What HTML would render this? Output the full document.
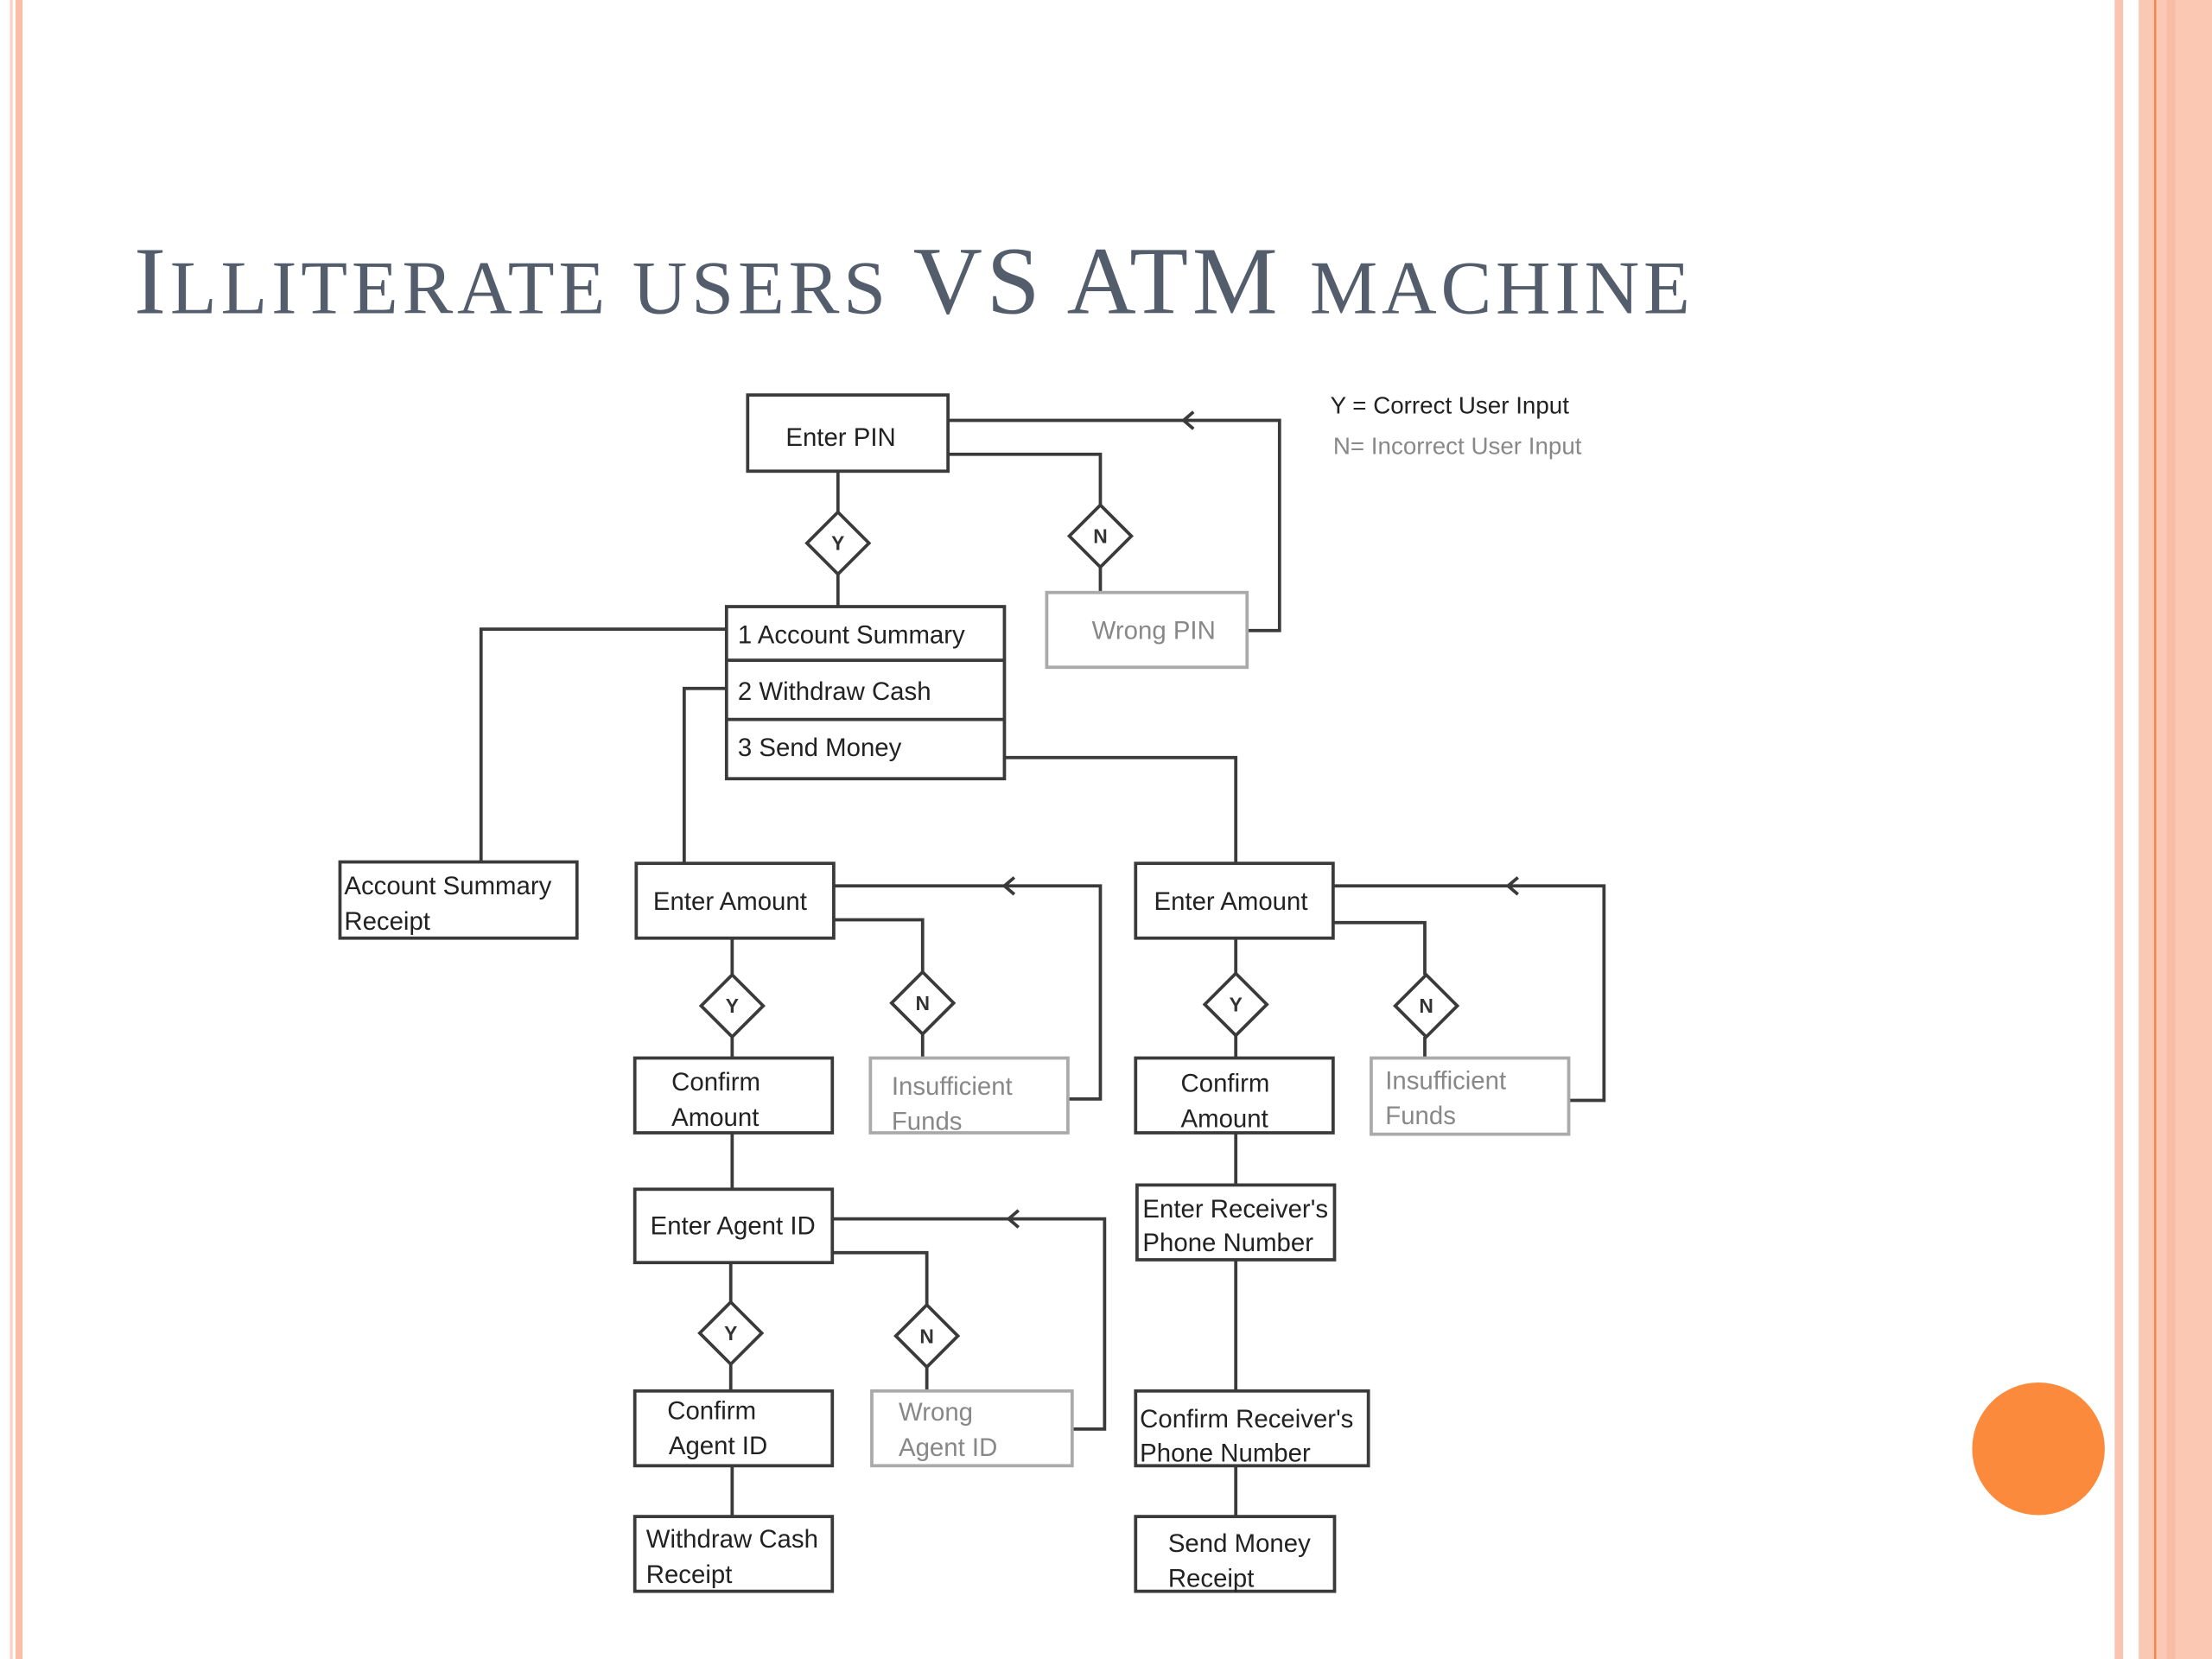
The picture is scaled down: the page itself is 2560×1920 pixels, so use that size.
<!DOCTYPE html>
<html><head><meta charset="utf-8"><style>
html,body{margin:0;padding:0;background:#fff;}
svg{display:block;}
</style></head><body>
<svg width="2560" height="1920" viewBox="0 0 1568 1176" xmlns="http://www.w3.org/2000/svg">
<rect width="1568" height="1176" fill="#fff"/>
<rect x="7" y="0" width="2" height="1176" fill="#fbd3c4"/>
<rect x="11" y="0" width="5" height="1176" fill="#fbbfa8"/>
<rect x="1499" y="0" width="6" height="1176" fill="#fbc4b0"/>
<rect x="1516" y="0" width="52" height="1176" fill="#fbc8b4"/>
<rect x="1527" y="0" width="1.5" height="1176" fill="#f0874c"/>
<rect x="1536" y="0" width="6" height="1176" fill="#f9bda6"/>
<circle cx="1445" cy="1027" r="47" fill="#fc8a3c"/>
<text x="95" y="222" font-family="Liberation Serif, serif" fill="#535d6b" font-size="68" textLength="1103" lengthAdjust="spacing"><tspan>I</tspan><tspan font-size="54">LLITERATE USERS </tspan><tspan>VS ATM </tspan><tspan font-size="54">MACHINE</tspan></text>
<g fill="none" stroke="#3a3a3a" stroke-width="2.3">
<path d="M672 298 H907 V447 H884"/>
<path d="M672 322 H780 V358 M780 402 V420"/>
<path d="M594 334 V363 M594 407 V430"/>
<path d="M515 446 H341 V611"/>
<path d="M515 488 H485 V612"/>
<path d="M712 537 H876 V612"/>
<path d="M591 628 H780 V779 H757"/>
<path d="M591 652 H654 V689 M654 733 V750"/>
<path d="M519 665 V691 M519 735 V750"/>
<path d="M519 803 V843"/>
<path d="M590 864 H783 V1013 H760"/>
<path d="M590 888 H657 V925 M657 969 V986"/>
<path d="M518 895 V923 M518 967 V986"/>
<path d="M519 1039 V1075"/>
<path d="M945 628 H1137 V780 H1112"/>
<path d="M945 654 H1010 V691 M1010 735 V750"/>
<path d="M876 665 V690 M876 734 V750"/>
<path d="M876 803 V840 M876 893 V986 M876 1039 V1075"/>
<path d="M846 292 L839 298 L846 304"/>
<path d="M719 622 L712 628 L719 634"/>
<path d="M722 858 L715 864 L722 870"/>
<path d="M1076 622 L1069 628 L1076 634"/>
<path d="M594 363 L616 385 L594 407 L572 385 Z"/>
<path d="M780 358 L802 380 L780 402 L758 380 Z"/>
<path d="M519 691 L541 713 L519 735 L497 713 Z"/>
<path d="M654 689 L676 711 L654 733 L632 711 Z"/>
<path d="M518 923 L540 945 L518 967 L496 945 Z"/>
<path d="M657 925 L679 947 L657 969 L635 947 Z"/>
<path d="M876 690 L898 712 L876 734 L854 712 Z"/>
<path d="M1011 691 L1033 713 L1011 735 L989 713 Z"/>
<rect x="530" y="280" width="142" height="54" fill="#fff"/>
<rect x="515" y="430" width="197" height="122" fill="#fff"/>
<path d="M515 468 H712 M515 510 H712"/>
<rect x="241" y="611" width="168" height="54" fill="#fff"/>
<rect x="451" y="612" width="140" height="53" fill="#fff"/>
<rect x="450" y="750" width="140" height="53" fill="#fff"/>
<rect x="450" y="843" width="140" height="52" fill="#fff"/>
<rect x="450" y="986" width="140" height="53" fill="#fff"/>
<rect x="450" y="1075" width="140" height="53" fill="#fff"/>
<rect x="805" y="612" width="140" height="53" fill="#fff"/>
<rect x="805" y="750" width="140" height="53" fill="#fff"/>
<rect x="806" y="840" width="140" height="53" fill="#fff"/>
<rect x="805" y="986" width="165" height="53" fill="#fff"/>
<rect x="805" y="1075" width="141" height="53" fill="#fff"/>
</g>
<g fill="#fff" stroke="#aaa" stroke-width="2.3">
<rect x="742" y="420" width="142" height="53"/>
<rect x="617" y="750" width="140" height="53"/>
<rect x="618" y="986" width="142" height="53"/>
<rect x="972" y="750" width="140" height="54"/>
</g>
<g font-family="Liberation Sans, sans-serif" font-size="18" fill="#222">
<text x="557" y="316">Enter PIN</text>
<text x="523" y="456">1  Account Summary</text>
<text x="523" y="496">2  Withdraw Cash</text>
<text x="523" y="536">3  Send Money</text>
<text x="244" y="634">Account Summary</text>
<text x="244" y="659">Receipt</text>
<text x="463" y="645">Enter Amount</text>
<text x="476" y="773">Confirm</text>
<text x="476" y="798">Amount</text>
<text x="461" y="875">Enter Agent ID</text>
<text x="473" y="1006">Confirm</text>
<text x="474" y="1031">Agent ID</text>
<text x="458" y="1097">Withdraw Cash</text>
<text x="458" y="1122">Receipt</text>
<text x="818" y="645">Enter Amount</text>
<text x="837" y="774">Confirm</text>
<text x="837" y="799">Amount</text>
<text x="810" y="863">Enter Receiver's</text>
<text x="810" y="887">Phone Number</text>
<text x="808" y="1012">Confirm Receiver's</text>
<text x="808" y="1036">Phone Number</text>
<text x="828" y="1100">Send Money</text>
<text x="828" y="1125">Receipt</text>
<text x="943" y="293" font-size="17">Y = Correct User Input</text>
</g>
<g font-family="Liberation Sans, sans-serif" font-size="18" fill="#888">
<text x="774" y="453">Wrong PIN</text>
<text x="632" y="776">Insufficient</text>
<text x="632" y="801">Funds</text>
<text x="637" y="1007">Wrong</text>
<text x="637" y="1032">Agent ID</text>
<text x="982" y="772">Insufficient</text>
<text x="982" y="797">Funds</text>
<text x="945" y="322" font-size="17">N= Incorrect User Input</text>
</g>
<g font-family="Liberation Sans, sans-serif" font-size="14" fill="#333" text-anchor="middle" font-weight="bold">
<text x="594" y="390">Y</text>
<text x="780" y="385">N</text>
<text x="519" y="718">Y</text>
<text x="654" y="716">N</text>
<text x="518" y="950">Y</text>
<text x="657" y="952">N</text>
<text x="876" y="717">Y</text>
<text x="1011" y="718">N</text>
</g>
</svg>
</body></html>
